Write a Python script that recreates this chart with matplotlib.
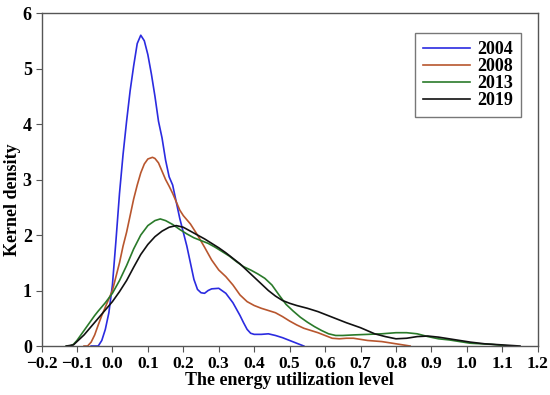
import matplotlib
matplotlib.use("Agg")
import matplotlib.pyplot as plt

years = ["2004", "2008", "2013", "2019"]

x2004 = [-0.06, -0.04, -0.03, -0.02, -0.01, 0.0, 0.01, 0.02, 0.03, 0.04, 0.05, 0.06, 0.07, 0.08,
         0.09, 0.10, 0.11, 0.12, 0.13, 0.14, 0.15, 0.16, 0.17, 0.18, 0.19, 0.20, 0.21, 0.22, 0.23,
         0.24, 0.25, 0.26, 0.27, 0.28, 0.30, 0.32, 0.34, 0.36, 0.37, 0.38, 0.39, 0.40, 0.42, 0.44,
         0.46, 0.48, 0.50, 0.52, 0.54]
y2004 = [0.0, 0.0, 0.1, 0.3, 0.6, 1.1, 1.9, 2.75, 3.45, 4.05, 4.6, 5.05, 5.45, 5.6,
         5.5, 5.25, 4.9, 4.5, 4.05, 3.75, 3.35, 3.05, 2.9, 2.6, 2.3, 2.05, 1.8, 1.5, 1.2,
         1.02, 0.96, 0.95, 1.0, 1.03, 1.04, 0.95, 0.78, 0.55, 0.42, 0.3, 0.23, 0.21, 0.21, 0.22,
         0.19, 0.15, 0.1, 0.05, 0.0]

x2008 = [-0.08, -0.07, -0.06, -0.05, -0.04, -0.03, -0.02, -0.01, 0.0, 0.01, 0.02, 0.03, 0.04,
         0.05, 0.06, 0.07, 0.08, 0.09, 0.10, 0.113, 0.12, 0.13, 0.14, 0.15, 0.16, 0.17, 0.18,
         0.19, 0.20, 0.22, 0.24, 0.26, 0.28, 0.30, 0.32, 0.34, 0.36, 0.38, 0.40, 0.42, 0.44,
         0.46, 0.48, 0.50, 0.52, 0.54, 0.56, 0.58, 0.60, 0.62, 0.64, 0.66, 0.68, 0.70, 0.72,
         0.74, 0.76, 0.78, 0.80, 0.82, 0.84]
y2008 = [0.0, 0.0, 0.07, 0.2, 0.38, 0.55, 0.7, 0.85, 1.0, 1.25, 1.5, 1.8, 2.05,
         2.35, 2.65, 2.9, 3.12, 3.28, 3.37, 3.4, 3.38, 3.3, 3.15, 3.0, 2.88, 2.75, 2.6,
         2.45, 2.35, 2.2, 2.0, 1.78, 1.55, 1.37, 1.25, 1.1, 0.92, 0.8, 0.73, 0.68, 0.64,
         0.6, 0.53, 0.45, 0.38, 0.32, 0.28, 0.24, 0.19, 0.14, 0.13, 0.14, 0.14, 0.12, 0.1,
         0.09, 0.08, 0.06, 0.04, 0.02, 0.0]

x2013 = [-0.13, -0.12, -0.11, -0.10, -0.09, -0.08, -0.07, -0.06, -0.05, -0.04, -0.02, 0.0, 0.02,
         0.04, 0.06, 0.08, 0.10, 0.12, 0.135, 0.15, 0.17, 0.19, 0.21, 0.23, 0.25, 0.27, 0.29,
         0.31, 0.33, 0.35, 0.37, 0.39, 0.41, 0.43, 0.45, 0.47, 0.49, 0.51, 0.53, 0.55, 0.57,
         0.59, 0.61, 0.63, 0.65, 0.68, 0.72, 0.76, 0.80, 0.83, 0.86, 0.89, 0.92, 0.95, 0.98,
         1.01, 1.04, 1.07, 1.10, 1.12]
y2013 = [0.0, 0.0, 0.03, 0.1, 0.19, 0.28, 0.37, 0.46, 0.55, 0.63, 0.78, 0.95, 1.18,
         1.45, 1.75, 2.0, 2.17, 2.26, 2.29, 2.26, 2.19, 2.1, 2.02, 1.95, 1.9, 1.85, 1.78,
         1.7, 1.62, 1.52, 1.43, 1.37, 1.3, 1.22, 1.1, 0.92, 0.75, 0.63, 0.52, 0.43, 0.35,
         0.28, 0.22, 0.19, 0.19, 0.2, 0.21, 0.22, 0.24, 0.24, 0.22, 0.17, 0.13, 0.11, 0.08,
         0.05, 0.04, 0.03, 0.01, 0.0]

x2019 = [-0.13, -0.11, -0.10, -0.08, -0.06, -0.04, -0.02, 0.0, 0.02, 0.04, 0.06, 0.08, 0.10,
         0.12, 0.14, 0.16, 0.18, 0.20, 0.22, 0.24, 0.26, 0.28, 0.30, 0.32, 0.34, 0.36, 0.38,
         0.40, 0.42, 0.44, 0.46, 0.48, 0.50, 0.52, 0.55, 0.58, 0.62, 0.66, 0.70, 0.74, 0.77,
         0.80, 0.83, 0.86, 0.89, 0.92, 0.95, 0.98, 1.01, 1.05, 1.10, 1.15]
y2019 = [0.0, 0.02, 0.08, 0.2, 0.35, 0.5, 0.65, 0.8, 0.98, 1.18, 1.42, 1.65, 1.83,
         1.97, 2.07, 2.14, 2.17, 2.14, 2.07, 2.0, 1.93, 1.85, 1.77, 1.68, 1.58, 1.48, 1.36,
         1.24, 1.12, 1.0, 0.9, 0.82, 0.77, 0.73, 0.68, 0.62, 0.52, 0.42, 0.33, 0.22, 0.17,
         0.13, 0.14, 0.17, 0.18, 0.16, 0.13, 0.1, 0.07, 0.04, 0.02, 0.0]

series_x = [x2004, x2008, x2013, x2019]
series_y = [y2004, y2008, y2013, y2019]
colors = ["#2b2be0", "#b8562e", "#2a7a2a", "#111111"]

xticks = [-0.2, -0.1, 0.0, 0.1, 0.2, 0.3, 0.4, 0.5, 0.6, 0.7, 0.8, 0.9, 1.0, 1.1, 1.2]
yticks = [0, 1, 2, 3, 4, 5, 6]

plt.rcParams["font.family"] = ["Liberation Serif", "DejaVu Serif"]
plt.rcParams["font.weight"] = "bold"

fig = plt.figure(figsize=(5.5, 3.95), dpi=100)
ax = fig.add_axes([0.0755, 0.124, 0.9022, 0.843])

for xs, ys, c, lab in zip(series_x, series_y, colors, years):
    ax.plot(xs, ys, color=c, lw=1.2, label=lab)

ax.set_xlim(-0.2, 1.2)
ax.set_ylim(0, 6)
ax.set_xticks(xticks)
ax.set_xticklabels([f"{t:.1f}".replace("-", "\u2212") for t in xticks])
ax.set_yticks(yticks)
ax.tick_params(axis="both", direction="out", length=4, width=0.8, color="#555555",
               labelsize=13, top=False, right=False)
ax.tick_params(axis="x", labelsize=12.5, pad=3)
ax.tick_params(axis="y", pad=3)
for lbl in ax.get_xticklabels() + ax.get_yticklabels():
    lbl.set_fontweight("bold")
for sp in ax.spines.values():
    sp.set_color("#555555")
    sp.set_linewidth(1.0)

ax.set_xlabel("The energy utilization level", fontsize=13, fontweight="bold", labelpad=0)
ax.set_ylabel("Kernel density", fontsize=13, fontweight="bold")
ax.yaxis.set_label_coords(-0.042, 0.44)

leg = ax.legend(loc="upper right", bbox_to_anchor=(0.966, 0.94), borderaxespad=0.0,
                frameon=True, fancybox=False, edgecolor="#555555",
                handlelength=2.6, handletextpad=0.4, labelspacing=0.0, borderpad=0.45,
                prop={"weight": "bold", "size": 13})
leg.get_frame().set_linewidth(1.0)

fig.savefig("out.png", dpi=100)
